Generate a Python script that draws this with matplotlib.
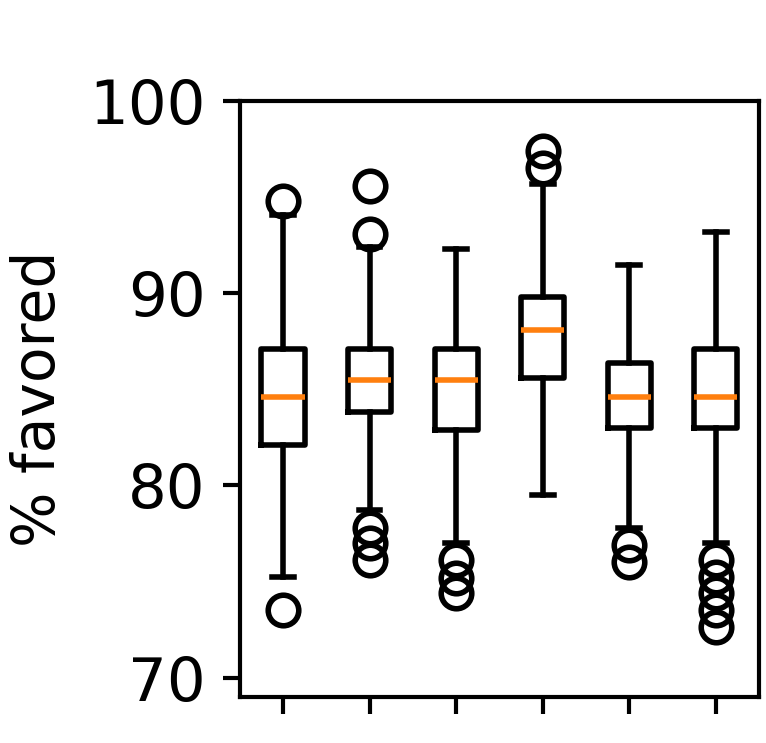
import matplotlib
matplotlib.use("Agg")
import matplotlib.pyplot as plt

# Box statistics
whislo = [75.25, 78.7, 77.0, 79.5, 77.8, 77.0]
q1 = [82.1, 83.8, 82.9, 85.6, 83.0, 83.0]
med = [84.6, 85.5, 85.5, 88.1, 84.6, 84.6]
q3 = [87.1, 87.1, 87.1, 89.8, 86.35, 87.1]
whishi = [94.05, 92.4, 92.3, 95.7, 91.45, 93.2]
fliers = [
    [94.8, 73.5],
    [95.6, 93.1, 77.8, 77.0, 76.1],
    [76.1, 75.2, 74.4],
    [97.4, 96.5],
    [76.9, 76.0],
    [76.1, 75.25, 74.4, 73.5, 72.65],
]
ylabel = "% favored"
yticks = [70, 80, 90, 100]

S = 4.0
plt.rcParams['font.family'] = ['DejaVu Sans']
fig = plt.figure(figsize=(7.66, 7.43), dpi=100)
ax = fig.add_axes([0.313, 0.062, 0.678, 0.802])

stats = []
for i in range(len(med)):
    stats.append(dict(whislo=whislo[i], q1=q1[i], med=med[i], q3=q3[i],
                      whishi=whishi[i], fliers=fliers[i]))

ax.bxp(stats, positions=range(1, len(med) + 1), widths=0.5,
       boxprops=dict(linewidth=S, color='black'),
       whiskerprops=dict(linewidth=S, color='black'),
       capprops=dict(linewidth=S, color='black'),
       medianprops=dict(linewidth=S, color='#ff7f0e'),
       flierprops=dict(marker='o', markersize=22, markeredgewidth=S,
                       markerfacecolor='none', markeredgecolor='black'))

ax.set_xlim(0.5, 6.5)
ax.set_ylim(69, 100)
ax.set_yticks(yticks)
ax.set_xticks(range(1, len(med) + 1))
ax.set_xticklabels([''] * len(med))
ax.tick_params(axis='both', length=12.5, width=3.0, labelsize=44, pad=12)
for sp in ax.spines.values():
    sp.set_linewidth(3.0)
ax.set_ylabel(ylabel, fontsize=42, labelpad=16)

fig.savefig("out.png", dpi=100)
